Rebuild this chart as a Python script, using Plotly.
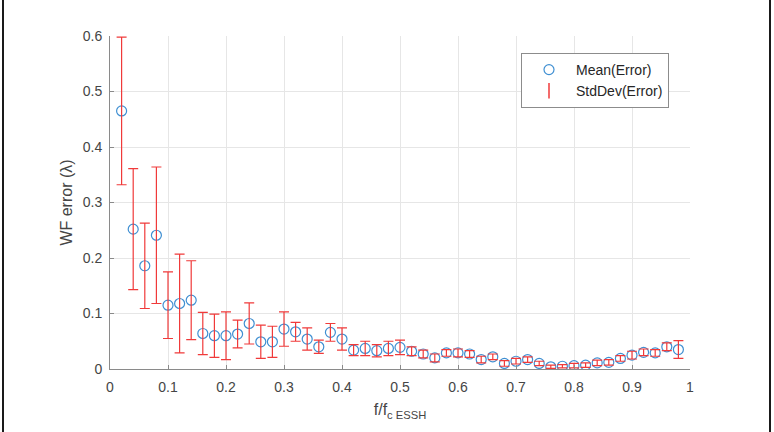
import plotly.graph_objects as go

freq = [0.02, 0.04, 0.06, 0.08, 0.10, 0.12, 0.14, 0.16, 0.18, 0.20,
        0.22, 0.24, 0.26, 0.28, 0.30, 0.32, 0.34, 0.36, 0.38, 0.40,
        0.42, 0.44, 0.46, 0.48, 0.50, 0.52, 0.54, 0.56, 0.58, 0.60,
        0.62, 0.64, 0.66, 0.68, 0.70, 0.72, 0.74, 0.76, 0.78, 0.80,
        0.82, 0.84, 0.86, 0.88, 0.90, 0.92, 0.94, 0.96, 0.98]
mean_err = [0.465, 0.252, 0.186, 0.241, 0.115, 0.118, 0.124, 0.064, 0.060, 0.060,
            0.063, 0.082, 0.049, 0.049, 0.072, 0.067, 0.054, 0.040, 0.066, 0.054,
            0.034, 0.037, 0.033, 0.037, 0.039, 0.032, 0.027, 0.020, 0.029, 0.029,
            0.027, 0.017, 0.022, 0.010, 0.014, 0.017, 0.010, 0.004, 0.005, 0.006,
            0.007, 0.011, 0.012, 0.019, 0.025, 0.030, 0.029, 0.040, 0.035]
std_err = [0.133, 0.109, 0.077, 0.123, 0.060, 0.089, 0.071, 0.038, 0.039, 0.043,
           0.025, 0.037, 0.030, 0.028, 0.031, 0.017, 0.020, 0.012, 0.016, 0.020,
           0.010, 0.013, 0.011, 0.013, 0.013, 0.008, 0.007, 0.007, 0.006, 0.007,
           0.006, 0.006, 0.005, 0.005, 0.005, 0.005, 0.004, 0.003, 0.003, 0.004,
           0.004, 0.005, 0.005, 0.005, 0.007, 0.006, 0.006, 0.007, 0.016]
x_ticks = [0, 0.1, 0.2, 0.3, 0.4, 0.5, 0.6, 0.7, 0.8, 0.9, 1]
x_tick_labels = ["0", "0.1", "0.2", "0.3", "0.4", "0.5", "0.6", "0.7", "0.8", "0.9", "1"]
y_ticks = [0, 0.1, 0.2, 0.3, 0.4, 0.5, 0.6]
y_tick_labels = ["0", "0.1", "0.2", "0.3", "0.4", "0.5", "0.6"]

BLUE = "#3f8fd2"
RED = "#f03a3a"
FONT = "Liberation Sans, Arial, sans-serif"
TXT = "#454545"

fig = go.Figure()
fig.add_trace(go.Scatter(
    x=freq, y=mean_err, mode="markers", name="Mean(Error)",
    marker=dict(symbol="circle-open", size=10, color=BLUE, line=dict(width=1.2, color=BLUE)),
))
fig.add_trace(go.Scatter(
    x=freq, y=mean_err, mode="markers", showlegend=False,
    marker=dict(size=0.1, opacity=0),
    error_y=dict(type="data", array=std_err, visible=True, color=RED, thickness=1.2, width=5),
))
fig.add_trace(go.Scatter(
    x=[None], y=[None], mode="markers", name="StdDev(Error)",
    marker=dict(symbol="line-ns", size=11, color=RED, line=dict(width=1.5, color=RED)),
))

L, R, T, B = 110, 84, 36, 63
W, H = 774, 432
pw, ph = W - L - R, H - T - B

def px(xp):
    return (xp - L) / pw

def py(yp):
    return (H - B - yp) / ph

# outer frame lines
for xv in (3, 770):
    fig.add_shape(type="line", xref="paper", yref="paper",
                  x0=px(xv), x1=px(xv), y0=py(0), y1=py(H),
                  line=dict(color="#1a1a1a", width=2))

fig.update_layout(
    width=W, height=H,
    margin=dict(l=L, r=R, t=T, b=B),
    paper_bgcolor="white", plot_bgcolor="white",
    font=dict(family=FONT, size=14, color=TXT),
    showlegend=True,
    legend=dict(x=px(521), y=py(53), xanchor="left", yanchor="top",
                bordercolor="#8c8c8c", borderwidth=1, bgcolor="white",
                font=dict(size=14, color="#262626"),
                tracegroupgap=0, itemwidth=44),
    xaxis=dict(range=[0, 1], tickvals=x_ticks, ticktext=x_tick_labels,
               showgrid=True, gridcolor="#e6e6e6", gridwidth=1,
               zeroline=False, showline=True, linecolor="#8a8a8a", linewidth=1,
               ticks="inside", ticklen=4, tickcolor="#8a8a8a",
               tickfont=dict(size=14, color=TXT), ticklabelstandoff=5,
               title=dict(text="f/f<sub>c ESSH</sub>", font=dict(size=16, color=TXT), standoff=10)),
    yaxis=dict(range=[0, 0.6], tickvals=y_ticks, ticktext=y_tick_labels,
               showgrid=True, gridcolor="#e6e6e6", gridwidth=1,
               zeroline=False, showline=True, linecolor="#8a8a8a", linewidth=1,
               ticks="inside", ticklen=4, tickcolor="#8a8a8a",
               tickfont=dict(size=14, color=TXT), ticklabelstandoff=4,
               title=dict(text="WF error (λ)", font=dict(size=16, color=TXT), standoff=6)),
)

fig.write_html("out.html")
